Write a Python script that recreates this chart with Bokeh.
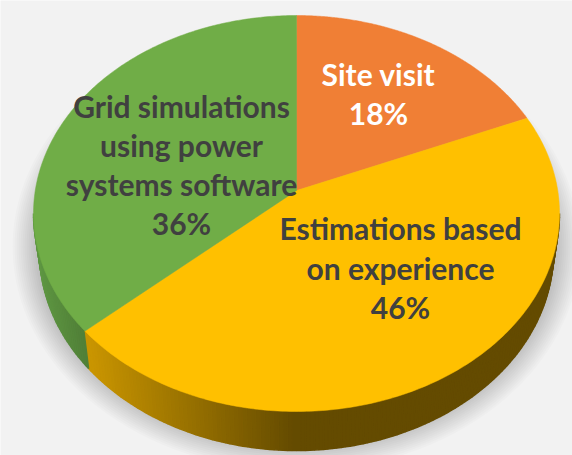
import numpy as np
from bokeh.plotting import figure
from bokeh.models import Range1d
from bokeh.core.properties import value
from bokeh.embed import file_html
from bokeh.resources import INLINE

categories = ["Site visit", "Estimations based on experience", "Grid simulations using power systems software"]
shares = [18, 46, 36]
top_colors = ["#F07F35", "#FFC000", "#70AD47"]
labels = [
    ["Site visit", "18%"],
    ["Estimations based", "on experience", "46%"],
    ["Grid simulations", "using power", "systems software", "36%"],
]
label_x = [378, 400, 181]
label_y = [[73.5, 112.5], [227.5, 267.5, 306.5], [105.5, 144.5, 183.5, 222.5]]
label_colors = ["#FFFFFF", "#404040", "#404040"]

CX, CY, RX, RY = 296, 213, 263, 198
A = 0.07           # perspective shift of the slice boundaries on the rim
APEX_Y = 190
SCY, SRX, SRY = 251, 257, 199   # lower rim


def project(theta):
    u, v = np.sin(theta), np.cos(theta)
    d = 1 + A * v
    return CX + RX * u * np.sqrt(1 - A * A) / d, CY - RY * (v + A) / d


def mix(c1, c2, t):
    c = [int(round(a + (b - a) * t)) for a, b in zip(c1, c2)]
    return "#%02x%02x%02x" % tuple(c)


p = figure(width=572, height=455, output_backend="svg", toolbar_location=None,
           x_range=Range1d(0, 572), y_range=Range1d(455, 0),
           min_border=0, outline_line_color=None,
           background_fill_color="#F2F2F2", border_fill_color="#F2F2F2")
p.xaxis.visible = False
p.yaxis.visible = False
p.grid.visible = False

# soft shadow
for s in np.arange(22, -12, -2):
    p.ellipse(x=[CX], y=[246], width=[2 * (262 + s)], height=[2 * (203 + s)],
              fill_color="#000000", fill_alpha=0.017, line_color=None)

fracs = np.cumsum([0] + shares) / sum(shares)
angles = 2 * np.pi * fracs

# side wall, drawn in thin strips from the right extreme to the left extreme
phis = np.linspace(np.pi / 2, 3 * np.pi / 2, 181)
bx, by = project(angles[2])
xs, ys, cols = [], [], []
for a, b in zip(phis[:-1], phis[1:]):
    tx = CX + RX * np.sin([a, b])
    ty = CY - RY * np.cos([a, b])
    ox = CX + SRX * np.sin([b, a])
    oy = SCY - SRY * np.cos([b, a])
    mx = tx.mean()
    if mx < bx:
        t = np.clip((mx - 35) / 55, 0, 1)
        col = mix((0x5E, 0x96, 0x42), (0x4E, 0x7C, 0x36), t)
    else:
        t = np.clip((mx - 88) / 205, 0, 1)
        col = mix((0xC9, 0x95, 0x00), (0x64, 0x4B, 0x00), t)
    xs.append(list(tx) + list(ox))
    ys.append(list(ty) + list(oy))
    cols.append(col)
p.patches(xs, ys, fill_color=cols, line_color=cols, line_width=1.5)

# top face
for i, c in enumerate(top_colors):
    th = np.linspace(angles[i], angles[i + 1], 200)
    x, y = project(th)
    p.patch(list(x) + [CX], list(y) + [APEX_Y], fill_color=c, line_color=c, line_width=0.5)

for lines, lx, lys, col in zip(labels, label_x, label_y, label_colors):
    p.text(x=[lx] * len(lines), y=lys, text=lines, text_color=col,
           text_font=value("Lato"), text_font_style="bold", text_font_size="30px",
           text_align="center", text_baseline="middle")

open("out.html", "w").write(file_html(p, INLINE))
